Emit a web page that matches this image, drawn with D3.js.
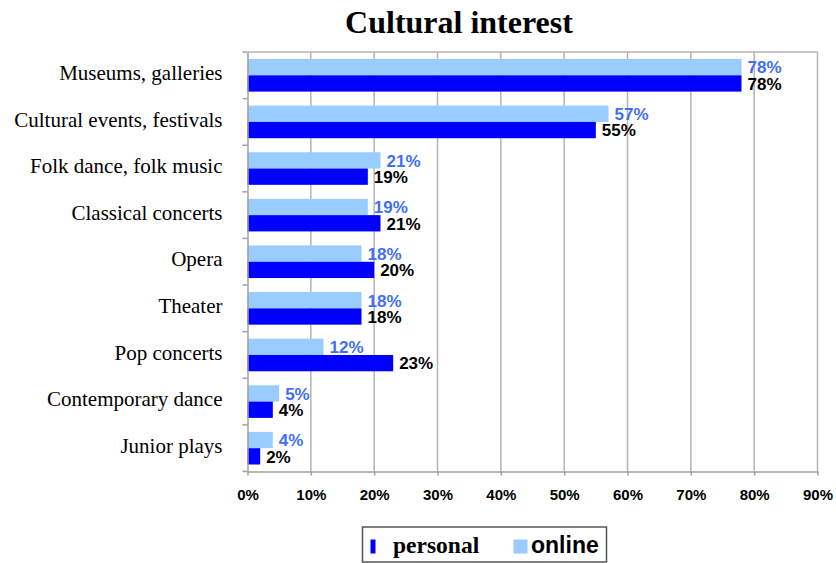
<!DOCTYPE html>
<html>
<head>
<meta charset="utf-8">
<script src="https://cdn.jsdelivr.net/npm/d3@7"></script>
<style>
  html, body { margin: 0; padding: 0; background: #fff; }
  svg { display: block; }
</style>
</head>
<body>
<svg id="chart" width="836" height="563"></svg>
<script>
// Survey categories, top to bottom
const categories = [
  "Museums, galleries",
  "Cultural events, festivals",
  "Folk dance, folk music",
  "Classical concerts",
  "Opera",
  "Theater",
  "Pop concerts",
  "Contemporary dance",
  "Junior plays"
];
// Share of respondents (%)
const personal = [78, 55, 19, 21, 20, 18, 23, 4, 2];
const online   = [78, 57, 21, 19, 18, 18, 12, 5, 4];
const seriesNames = ["online", "personal"];
const xTicks = [0, 10, 20, 30, 40, 50, 60, 70, 80, 90];

const W = 836, H = 563;
const plot = { left: 247.5, right: 817.5, top: 52, bottom: 471.5 };
const colors = { personal: "#0000ff", online: "#99ccff" };
const labelColors = { personal: "#000000", online: "#3f6ff5" };

const svg = d3.select("#chart");

const x = d3.scaleLinear().domain([0, 90]).range([plot.left, plot.right]);
const y = d3.scaleBand().domain(categories).range([plot.top, plot.bottom]).padding(0);
const ySub = d3.scaleBand().domain(seriesNames).range([0, y.bandwidth()])
  .paddingInner(0).paddingOuter(0.43);

// Title
svg.append("text")
  .attr("x", 459).attr("y", 33)
  .attr("text-anchor", "middle")
  .attr("font-family", "'Liberation Serif', 'Times New Roman', serif")
  .attr("font-weight", "bold")
  .attr("font-size", 32)
  .text("Cultural interest");

// Vertical gridlines
svg.append("g").selectAll("line")
  .data(xTicks.slice(1))
  .join("line")
  .attr("x1", d => x(d)).attr("x2", d => x(d))
  .attr("y1", plot.top).attr("y2", plot.bottom)
  .attr("stroke", "#b4b4b4").attr("stroke-width", 1.5);

// Plot frame top edge
svg.append("line")
  .attr("x1", plot.left).attr("x2", plot.right)
  .attr("y1", plot.top).attr("y2", plot.top)
  .attr("stroke", "#b4b4b4").attr("stroke-width", 1.5);

// Bars
const rows = categories.map((c, i) => ({ cat: c, personal: personal[i], online: online[i] }));
const groups = svg.append("g").selectAll("g")
  .data(rows)
  .join("g")
  .attr("transform", d => `translate(0,${y(d.cat)})`);

groups.selectAll("rect")
  .data(d => seriesNames.map(k => ({ key: k, value: d[k] })))
  .join("rect")
  .attr("x", x(0))
  .attr("y", d => ySub(d.key))
  .attr("width", d => x(d.value) - x(0))
  .attr("height", ySub.bandwidth())
  .attr("fill", d => colors[d.key]);

groups.selectAll("text")
  .data(d => seriesNames.map(k => ({ key: k, value: d[k] })))
  .join("text")
  .attr("x", d => x(d.value) + 6)
  .attr("y", d => ySub(d.key) + ySub.bandwidth() / 2 + 6.3)
  .attr("font-family", "'Liberation Sans', Arial, sans-serif")
  .attr("font-weight", "bold")
  .attr("font-size", 17)
  .attr("fill", d => labelColors[d.key])
  .text(d => d.value + "%");

// Category axis (left)
const yAxis = d3.axisLeft(y).tickSize(0).tickPadding(25);
const gy = svg.append("g").attr("transform", `translate(${plot.left},0)`).call(yAxis);
gy.select(".domain").attr("stroke", "#a0a0a0").attr("stroke-width", 1.5);
gy.selectAll(".tick text")
  .attr("font-family", "'Liberation Serif', 'Times New Roman', serif")
  .attr("font-size", 21)
  .attr("fill", "#000")
  .attr("dy", "0.22em");
// Tick marks at category boundaries
svg.append("g").selectAll("line")
  .data(categories.map(c => y(c)).concat([plot.bottom]))
  .join("line")
  .attr("x1", plot.left - 5).attr("x2", plot.left)
  .attr("y1", d => d).attr("y2", d => d)
  .attr("stroke", "#a0a0a0").attr("stroke-width", 1.5);

// Value axis (bottom)
const xAxis = d3.axisBottom(x).tickValues(xTicks).tickFormat(d => d + "%")
  .tickSizeInner(4).tickSizeOuter(0).tickPadding(14);
const gx = svg.append("g").attr("transform", `translate(0,${plot.bottom})`).call(xAxis);
gx.select(".domain").attr("stroke", "#a0a0a0").attr("stroke-width", 1.5);
gx.selectAll(".tick line").attr("stroke", "#a0a0a0").attr("stroke-width", 1.5);
gx.selectAll(".tick text")
  .attr("font-family", "'Liberation Sans', Arial, sans-serif")
  .attr("font-weight", "bold")
  .attr("font-size", 15)
  .attr("fill", "#000");

// Legend
const legend = svg.append("g");
legend.append("rect")
  .attr("x", 362.5).attr("y", 527).attr("width", 244).attr("height", 35)
  .attr("fill", "#fff").attr("stroke", "#555").attr("stroke-width", 1.5);
legend.append("rect")
  .attr("x", 370.5).attr("y", 539.5).attr("width", 5).attr("height", 14)
  .attr("fill", colors.personal);
legend.append("text")
  .attr("x", 393).attr("y", 552.5)
  .attr("font-family", "'Liberation Serif', 'Times New Roman', serif")
  .attr("font-weight", "bold").attr("font-size", 23.5)
  .text("personal");
legend.append("rect")
  .attr("x", 513.5).attr("y", 539.5).attr("width", 14).attr("height", 14)
  .attr("fill", colors.online);
legend.append("text")
  .attr("x", 531).attr("y", 552.5)
  .attr("font-family", "'Liberation Sans', Arial, sans-serif")
  .attr("font-weight", "bold").attr("font-size", 23)
  .text("online");
</script>
</body>
</html>
